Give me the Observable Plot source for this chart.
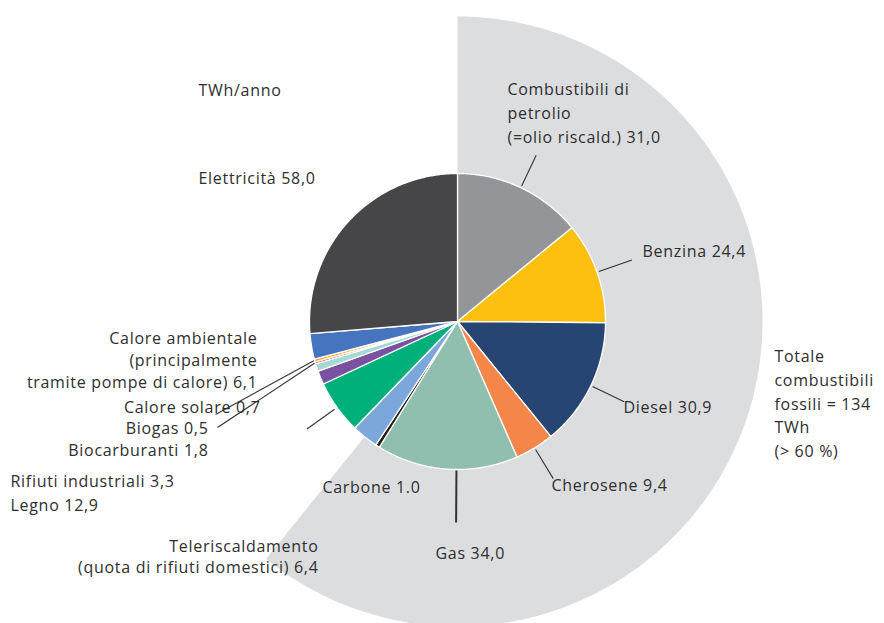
<!DOCTYPE html>
<html>
<head>
<meta charset="utf-8">
<script src="https://cdn.jsdelivr.net/npm/d3@7"></script>
<script src="https://cdn.jsdelivr.net/npm/@observablehq/plot@0.6"></script>
<style>
  html, body { margin: 0; padding: 0; background: #fff; }
  #chart svg { display: block; }
  #chart svg text { letter-spacing: 0.7px; }
</style>
</head>
<body>
<div id="chart"></div>
<script>
// ---- DATA (TWh/anno), clockwise from 12 o'clock ----
const categories = [
  "Combustibili di petrolio", "Benzina", "Diesel", "Cherosene", "Gas", "Carbone",
  "Teleriscaldamento", "Legno", "Rifiuti industriali", "Biocarburanti", "Biogas",
  "Calore solare", "Calore ambientale", "Elettricità"
];
const values = [31.0, 24.4, 30.9, 9.4, 34.0, 1.0, 6.4, 12.9, 3.3, 1.8, 0.5, 0.7, 6.1, 58.0];
const labels = [
  "Combustibili di\npetrolio\n(=olio riscald.) 31,0",
  "Benzina 24,4", "Diesel 30,9", "Cherosene 9,4", "Gas 34,0", "Carbone 1.0",
  "Teleriscaldamento\n(quota di rifiuti domestici) 6,4",
  "Legno 12,9", "Rifiuti industriali 3,3", "Biocarburanti 1,8", "Biogas 0,5",
  "Calore solare 0,7",
  "Calore ambientale\n(principalmente\ntramite pompe di calore) 6,1",
  "Elettricità 58,0"
];
const fossilTotal = 134;
const fossilLabel = "Totale\ncombustibili\nfossili = 134\nTWh\n(> 60 %)";
const unitLabel = "TWh/anno";

// ---- STYLE ----
const colors = [
  "#939598", "#fdc010", "#264573", "#f5864a", "#90bfaf", "#1c1c1c",
  "#7ba7da", "#00b07b", "#7a50a1", "#a3d9d5", "#e8402e",
  "#f6ab1e", "#4674be", "#464648"
];
const fossilColor = "#dcdddf";
const textColor = "#2e2e2e";

// ---- LAYOUT (pixels relative to pie centre) ----
const rPie = 148, rOuter = 305;
// label anchor positions [dx, dy, anchor, lineHeight(em)]
const labelLayout = {
  "Combustibili di petrolio": [50, -208, "start", 1.5],
  "Benzina": [185, -70, "start", 1.5],
  "Diesel": [166, 86.5, "start", 1.5],
  "Cherosene": [94, 164, "start", 1.5],
  "Gas": [-22, 232, "start", 1.5],
  "Carbone": [-135, 166, "start", 1.5],
  "Teleriscaldamento": [-139, 236.5, "end", 1.31],
  "Legno": [-447, 184, "start", 1.5],
  "Rifiuti industriali": [-447, 160, "start", 1.5],
  "Biocarburanti": [-249, 129, "end", 1.5],
  "Biogas": [-249, 107, "end", 1.5],
  "Calore solare": [-197, 86, "end", 1.5],
  "Calore ambientale": [-200, 40, "end", 1.375],
  "Elettricità": [-259, -143, "start", 1.5]
};
// radial leaders [r1, r2, angleOverrideDeg]
const radialLeaders = {
  "Combustibili di petrolio": [150, 184, null],
  "Benzina": [150, 185, null],
  "Diesel": [150, 185, null],
  "Cherosene": [150, 184, null],
  "Gas": [149, 201, 180.4],
  "Legno": [151, 185, null]
};
// leaders from slice rim to a label-side end point
const pointLeaders = {
  "Calore solare": [-242, 93],
  "Biogas": [-240, 106]
};

// ---- GEOMETRY from values ----
const arcs = d3.pie().sort(null).startAngle(0).endAngle(2 * Math.PI)(values);
const total = d3.sum(values);

function sector(name, a0, a1, r) {
  const pts = [{name, x: 0, y: 0}];
  const n = Math.max(2, Math.ceil((a1 - a0) / (Math.PI / 360)));
  for (let i = 0; i <= n; i++) {
    const a = a0 + (a1 - a0) * i / n;
    pts.push({name, x: r * Math.sin(a), y: -r * Math.cos(a)});
  }
  return pts;
}

const slicePts = arcs.flatMap((d, i) => sector(categories[i], d.startAngle, d.endAngle, rPie));
const fossilPts = sector("fossil", 0, fossilTotal / total * 2 * Math.PI, rOuter);

const leaders = [];
categories.forEach((c, i) => {
  const mid = (arcs[i].startAngle + arcs[i].endAngle) / 2;
  if (radialLeaders[c]) {
    const [r1, r2, ov] = radialLeaders[c];
    const a = ov != null ? ov * Math.PI / 180 : mid;
    leaders.push({name: c, x1: r1 * Math.sin(a), y1: -r1 * Math.cos(a),
                  x2: r2 * Math.sin(a), y2: -r2 * Math.cos(a), w: c === "Gas" ? 2 : 1.1});
  }
  if (pointLeaders[c]) {
    const [ex, ey] = pointLeaders[c];
    const r1 = rPie + 1;
    leaders.push({name: c, x1: r1 * Math.sin(mid), y1: -r1 * Math.cos(mid), x2: ex, y2: ey, w: 1.1});
  }
});

const textRows = categories.map((c, i) => ({
  text: labels[i], x: labelLayout[c][0], y: labelLayout[c][1],
  anchor: labelLayout[c][2], lh: labelLayout[c][3]
}));
textRows.push({text: fossilLabel, x: 317, y: 83, anchor: "start", lh: 1.475});
textRows.push({text: unitLabel, x: -259, y: -231, anchor: "start", lh: 1.5});

const groups = d3.groups(textRows, d => d.anchor + "|" + d.lh);
const textMarks = groups.map(([key, rows]) => Plot.text(rows, {
  x: "x", y: "y", text: "text", dy: -2.5,
  textAnchor: rows[0].anchor, lineAnchor: "middle", lineHeight: rows[0].lh,
  fontSize: 16, fontFamily: "Open Sans", fill: textColor
}));

const chart = Plot.plot({
  width: 884,
  height: 623,
  margin: 0,
  x: {domain: [-457, 427], range: [0, 884], axis: null},
  y: {domain: [-321, 302], range: [0, 623], axis: null},
  color: {domain: categories, range: colors},
  style: {background: "#ffffff"},
  marks: [
    Plot.line(fossilPts, {x: "x", y: "y", z: "name", fill: fossilColor, stroke: "none", curve: "linear-closed"}),
    Plot.line(slicePts, {x: "x", y: "y", z: "name", fill: "name", stroke: "white", strokeWidth: 1.3, strokeLinejoin: "round", curve: "linear-closed"}),
    Plot.link(leaders, {x1: "x1", y1: "y1", x2: "x2", y2: "y2", stroke: "#333333", strokeWidth: "w"}),
    ...textMarks
  ]
});
document.getElementById("chart").appendChild(chart);
</script>
</body>
</html>
